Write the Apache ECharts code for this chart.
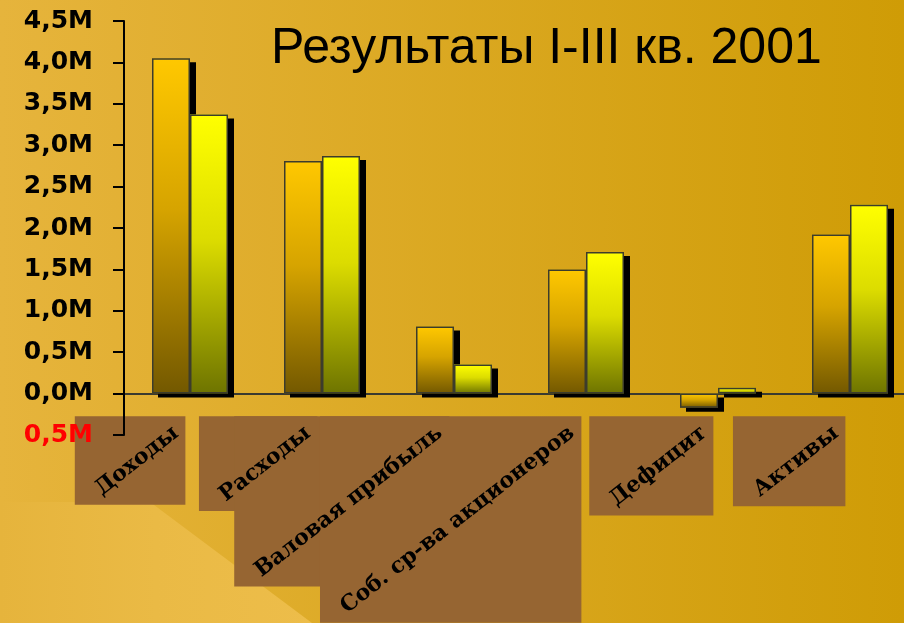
<!DOCTYPE html>
<html lang="ru">
<head>
    <meta charset="UTF-8">
    <title>Результаты I-III кв. 2001</title>
    <script src="https://cdn.jsdelivr.net/npm/echarts@6/dist/echarts.min.js"></script>
    <style>
        html, body { margin: 0; padding: 0; width: 100%; height: 100%; overflow: hidden; }
        #main { width: 904px; height: 623px; }
    </style>
</head>
<body>
<div id="main"></div>
<script>
    // данные (млн)
    var categories = ['Доходы', 'Расходы', 'Валовая прибыль', 'Соб. ср-ва акционеров', 'Дефицит', 'Активы'];
    var series1 = [4.05, 2.81, 0.81, 1.50, -0.17, 1.92];
    var series2 = [3.37, 2.87, 0.35, 1.71, 0.07, 2.28];
    var yTicks = [-0.5, 0, 0.5, 1, 1.5, 2, 2.5, 3, 3.5, 4, 4.5];

    var chart = echarts.init(document.getElementById('main'));

    function grad(top, mid, bottom) {
        return new echarts.graphic.LinearGradient(0, 0, 0, 1, [
            {offset: 0, color: top},
            {offset: 0.45, color: mid},
            {offset: 1, color: bottom}
        ]);
    }

    // заливка с тенью (ось 0) и отдельно рамка (ось 1), чтобы тень рамки не ложилась на столбик
    function fillSeries(data, color) {
        return {
            type: 'bar', xAxisIndex: 0, data: data, barWidth: 38, barGap: '0%', z: 2,
            itemStyle: {color: color, borderWidth: 0, shadowColor: '#000', shadowBlur: 0, shadowOffsetX: 6, shadowOffsetY: 4}
        };
    }
    function borderSeries(data) {
        return {
            type: 'bar', xAxisIndex: 1, data: data, barWidth: 38, barGap: '0%', z: 3, silent: true,
            itemStyle: {color: 'rgba(0,0,0,0)', borderColor: '#3c3c2c', borderWidth: 1.5}
        };
    }

    var option = {
        backgroundColor: new echarts.graphic.LinearGradient(0, 0, 1, 0, [
            {offset: 0, color: '#e6b43c'},
            {offset: 1, color: '#cf9c06'}
        ]),
        animation: false,
        title: {
            text: 'Результаты I-III кв. 2001',
            left: 266,
            top: 19,
            textStyle: {fontFamily: 'Liberation Sans', fontWeight: 'normal', fontSize: 50, color: '#000'}
        },
        grid: {left: 124, top: 21, width: 792, height: 414, outerBoundsMode: 'none'},
        xAxis: [{
            type: 'category',
            data: categories,
            axisLine: {onZero: true, lineStyle: {color: '#3a3a30', width: 2}},
            axisTick: {show: false},
            axisLabel: {show: false}
        }, {
            type: 'category',
            data: categories,
            show: false
        }],
        yAxis: {
            type: 'value',
            z: 10,
            min: yTicks[0],
            max: yTicks[yTicks.length - 1],
            interval: 0.5,
            splitLine: {show: false},
            axisLine: {show: true, lineStyle: {color: '#000', width: 2}},
            axisTick: {show: true, length: 11, lineStyle: {color: '#000', width: 2}},
            axisLabel: {
                margin: 31,
                fontFamily: 'DejaVu Sans',
                fontWeight: 'bold',
                fontSize: 25,
                color: function (v) { return v < 0 ? '#ff0000' : '#000'; },
                formatter: function (v) { return Math.abs(v).toFixed(1).replace('.', ',') + 'M'; }
            }
        },
        series: [
            fillSeries(series1, grad('#ffc800', '#d6a400', '#735800')),
            fillSeries(series2, grad('#ffff00', '#dcdc00', '#6e7400')),
            borderSeries(series1),
            borderSeries(series2)
        ]
    };
    chart.setOption(option);

    // подписи категорий в коричневых плашках
    var angle = 38 * Math.PI / 180;
    var labelFont = 'bold 22px "DejaVu Serif"';
    var ctx = document.createElement('canvas').getContext('2d');
    ctx.font = labelFont;
    var y0 = chart.convertToPixel({yAxisIndex: 0}, 0);
    var boxes = [], texts = [];
    var h = 24;
    categories.forEach(function (c) {
        var cx = chart.convertToPixel({xAxisIndex: 0}, c);
        var ax = cx - 14, ay = y0 + 37;
        var w = ctx.measureText(c).width;
        var ux = Math.cos(angle), uy = -Math.sin(angle);
        var nx = Math.sin(angle), ny = Math.cos(angle);
        var xs = [], ys = [];
        [-w, 0].forEach(function (s) {
            [-h / 2, h / 2].forEach(function (t) {
                xs.push(ax + s * ux + t * nx);
                ys.push(ay + s * uy + t * ny);
            });
        });
        var x1 = Math.min.apply(null, xs) - 16, x2 = Math.max.apply(null, xs) + 2;
        var y1 = Math.min.apply(null, ys) - 5, y2 = Math.max.apply(null, ys) + 4;
        boxes.push({type: 'rect', z: 1, shape: {x: x1, y: y1, width: x2 - x1, height: y2 - y1},
            style: {fill: '#966532'}});
        texts.push({type: 'text', z: 2, x: ax, y: ay, rotation: angle,
            style: {text: c, font: labelFont, fill: '#000', align: 'right', verticalAlign: 'middle'}});
    });

    var bgShape = {type: 'polygon', z: 0,
        shape: {points: [[0, 502], [150, 502], [312, 623], [0, 623]]},
        style: {fill: new echarts.graphic.LinearGradient(0, 0, 1, 0, [
            {offset: 0, color: '#e6b43c'},
            {offset: 0.5, color: '#eaba45'},
            {offset: 1, color: '#edbd4a'}
        ])}};

    chart.setOption({graphic: [bgShape].concat(boxes, texts)});
</script>
</body>
</html>
